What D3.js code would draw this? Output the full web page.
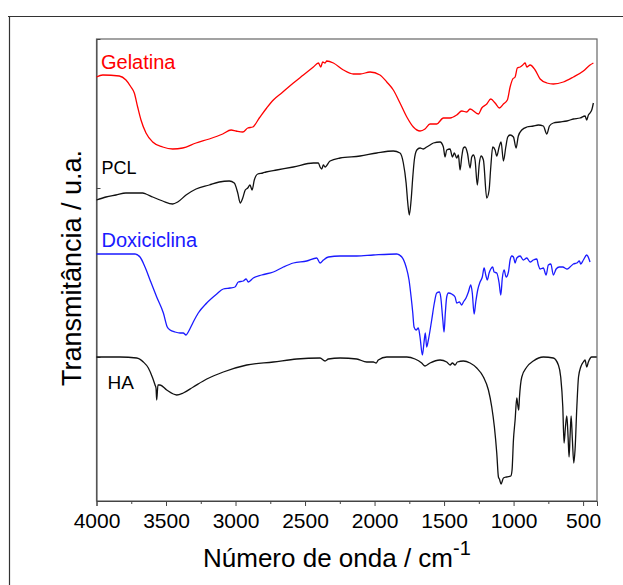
<!DOCTYPE html>
<html><head><meta charset="utf-8">
<script src="https://cdn.jsdelivr.net/npm/d3@7"></script>
<style>html,body{margin:0;padding:0;background:#fff;}svg{display:block;}</style>
</head><body>
<svg id="chart" width="623" height="585"></svg>
<script>
// ---- data (wavenumber cm-1, transmittance in arbitrary units) ----
const xMajorTicks = [4000, 3500, 3000, 2500, 2000, 1500, 1000, 500];
const xMinorTicks = [3750, 3250, 2750, 2250, 1750, 1250, 750];
const yTicks = [144, 313];
const seriesNames = ["Gelatina", "PCL", "Doxiciclina", "HA"];

const gelatina = [[4000,424],[3955,426],[3836,425],[3788,421],[3752,414],[3728,408],[3704,394],[3680,381],[3644,368],[3596,359],[3524,354],[3452,352],[3380,353],[3284,358],[3189,362],[3092,367],[3032,371],[2996,370],[2948,369],[2912,373],[2876,374],[2829,383],[2776,393],[2728,401],[2668,408],[2584,418],[2512,426],[2440,434],[2404,438],[2387,434],[2373,439],[2356,438],[2344,440],[2296,438],[2224,431],[2153,427],[2104,427],[2032,429],[1961,426],[1912,419],[1865,411],[1817,398],[1768,384],[1721,374],[1673,370],[1637,372],[1601,377],[1553,377],[1505,383],[1457,383],[1409,386],[1373,390],[1337,389],[1313,392],[1253,387],[1229,393],[1193,397],[1164,402],[1133,398],[1102,393],[1073,397],[1045,401],[1025,414],[1006,422],[989,424],[973,433],[953,434],[934,436],[917,438],[905,434],[881,436],[845,431],[809,422],[761,418],[714,417],[642,419],[570,424],[498,430],[450,436],[426,438]];

const pcl = [[4000,301],[3932,304],[3860,306],[3788,308],[3716,308],[3668,308],[3644,307],[3596,304],[3524,300],[3452,297],[3416,299],[3356,306],[3284,312],[3189,316],[3117,319],[3045,320],[3009,318],[2984,308],[2966,298],[2948,303],[2930,311],[2912,313],[2896,316],[2881,311],[2865,321],[2840,327],[2804,328],[2781,329],[2704,331],[2584,334],[2440,338],[2404,338],[2392,334],[2380,332],[2368,336],[2356,334],[2320,340],[2248,343],[2104,345],[1984,348],[1865,350],[1817,348],[1793,338],[1773,318],[1761,298],[1750,286],[1737,301],[1725,324],[1714,341],[1696,351],[1673,353],[1649,352],[1625,354],[1601,356],[1577,358],[1529,359],[1505,354],[1493,344],[1481,351],[1457,352],[1440,344],[1426,348],[1409,343],[1397,346],[1385,331],[1373,344],[1361,353],[1349,354],[1332,348],[1313,333],[1301,344],[1289,346],[1277,341],[1261,316],[1246,338],[1234,345],[1217,341],[1193,303],[1176,311],[1164,334],[1150,354],[1133,351],[1121,345],[1104,354],[1090,359],[1073,340],[1056,354],[1042,364],[1025,366],[1001,364],[982,353],[966,365],[941,371],[905,374],[858,375],[822,376],[786,375],[761,367],[742,375],[714,378],[666,379],[617,380],[570,382],[522,383],[486,385],[474,381],[462,386],[450,388],[438,391],[426,398]];

const doxiciclina = [[4000,247],[3879,247],[3723,247],[3687,244],[3651,234],[3615,221],[3567,204],[3519,188],[3491,174],[3471,171],[3435,169],[3399,168],[3376,168],[3356,166],[3340,169],[3304,179],[3268,188],[3207,198],[3135,207],[3088,212],[3040,213],[3004,214],[2980,219],[2944,220],[2924,222],[2908,219],[2872,223],[2812,226],[2728,229],[2656,234],[2584,238],[2488,240],[2416,243],[2392,238],[2368,241],[2332,244],[2248,245],[2128,245],[2009,246],[1840,247],[1804,244],[1773,234],[1752,221],[1737,204],[1725,188],[1716,174],[1701,171],[1685,173],[1673,164],[1656,146],[1644,159],[1635,168],[1625,154],[1613,161],[1589,181],[1570,198],[1553,208],[1534,209],[1524,204],[1509,181],[1500,169],[1491,188],[1481,204],[1469,208],[1445,207],[1421,204],[1409,198],[1390,199],[1373,196],[1361,199],[1342,203],[1325,209],[1308,216],[1297,208],[1284,187],[1272,199],[1258,211],[1241,219],[1225,224],[1212,233],[1200,226],[1189,221],[1176,228],[1164,232],[1150,234],[1140,229],[1121,228],[1104,218],[1092,206],[1081,223],[1068,231],[1054,224],[1037,229],[1025,241],[1013,245],[1001,244],[989,238],[977,243],[953,245],[930,241],[905,243],[881,239],[858,241],[833,242],[822,236],[810,232],[786,233],[766,226],[750,236],[732,237],[714,226],[694,232],[671,234],[646,234],[617,232],[594,234],[570,237],[545,238],[527,240],[517,237],[498,241],[474,246],[450,239]];

const ha = [[4000,144],[3831,144],[3711,143],[3663,139],[3627,133],[3596,123],[3579,116],[3572,113],[3567,101],[3558,116],[3543,116],[3495,111],[3423,106],[3376,108],[3304,114],[3207,122],[3088,129],[2919,136],[2728,139],[2560,142],[2392,143],[2356,140],[2332,142],[2248,143],[2128,142],[2056,139],[2009,139],[1989,138],[1973,141],[1912,144],[1768,144],[1709,142],[1661,138],[1637,135],[1601,138],[1529,141],[1481,139],[1457,136],[1440,138],[1421,136],[1404,139],[1361,140],[1313,138],[1265,133],[1217,124],[1181,111],[1157,94],[1138,74],[1121,48],[1109,24],[1102,22],[1090,17],[1073,23],[1049,24],[1020,25],[1011,31],[1001,61],[989,81],[977,103],[970,96],[963,91],[958,103],[941,124],[905,134],[858,140],[786,144],[714,143],[678,136],[661,124],[646,94],[637,58],[627,74],[617,85],[608,64],[601,44],[594,64],[586,85],[577,61],[567,38],[558,51],[545,94],[533,124],[517,134],[498,139],[486,141],[474,134],[462,139],[438,144],[402,144]];

// ---- drawing ----
const svg = d3.select("#chart");
const font = "'Liberation Sans', Arial, sans-serif";
const pLeft = 96.5, pRight = 597, pTop = 39, pBottom = 501;

const x = d3.scaleLinear().domain([4000, 400]).range([pLeft, pRight]);
const y = d3.scaleLinear().domain([0, 462]).range([pBottom, pTop]);

// outer frame
svg.append("line").attr("x1", 8).attr("x2", 623).attr("y1", 16.5).attr("y2", 16.5)
  .attr("stroke", "#333").attr("stroke-width", 1.2);
svg.append("line").attr("x1", 9.5).attr("x2", 9.5).attr("y1", 16).attr("y2", 585)
  .attr("stroke", "#333").attr("stroke-width", 1.2);

// plot frame
svg.append("rect").attr("x", pLeft).attr("y", pTop).attr("width", pRight - pLeft).attr("height", pBottom - pTop)
  .attr("fill", "none").attr("stroke", "#666").attr("stroke-width", 1.2);

// x axis
const xAxis = svg.append("g").attr("transform", `translate(0,${pBottom})`)
  .call(d3.axisBottom(x).tickValues(xMajorTicks).tickSize(5).tickPadding(7).tickFormat(d3.format("d")));
xAxis.select(".domain").attr("stroke", "#444");
xAxis.selectAll(".tick line").attr("stroke", "#444");
xAxis.selectAll("text").attr("font-family", font).attr("font-size", 21).attr("fill", "#000");
const xMinor = svg.append("g").attr("transform", `translate(0,${pBottom})`)
  .call(d3.axisBottom(x).tickValues(xMinorTicks).tickSize(3).tickFormat(""));
xMinor.select(".domain").remove();
xMinor.selectAll(".tick line").attr("stroke", "#444");

// y axis (inward ticks, no labels)
const yAxis = svg.append("g").attr("transform", `translate(${pLeft},0)`)
  .call(d3.axisRight(y).tickValues(yTicks).tickSize(4).tickFormat(""));
yAxis.select(".domain").attr("stroke", "#444");
yAxis.selectAll(".tick line").attr("stroke", "#444");

// curves
const line = d3.line().x(d => x(d[0])).y(d => y(d[1])).curve(d3.curveMonotoneX);
const series = [
  {data: gelatina, color: "#ff0000"},
  {data: pcl, color: "#111111"},
  {data: doxiciclina, color: "#1a1aff"},
  {data: ha, color: "#111111"}
];
svg.append("g").selectAll("path").data(series).join("path")
  .attr("d", d => line(d.data)).attr("fill", "none")
  .attr("stroke", d => d.color).attr("stroke-width", 1.3).attr("stroke-linejoin", "round");

// series labels
const labels = [
  {text: seriesNames[0], x: 101, y: 69, size: 20, color: "#ff0000"},
  {text: seriesNames[1], x: 101.5, y: 174, size: 18, color: "#000"},
  {text: seriesNames[2], x: 101.5, y: 247, size: 20, color: "#1a1aff"},
  {text: seriesNames[3], x: 107.5, y: 389, size: 19, color: "#000"}
];
svg.append("g").selectAll("text").data(labels).join("text")
  .attr("x", d => d.x).attr("y", d => d.y).attr("font-family", font)
  .attr("font-size", d => d.size).attr("fill", d => d.color).text(d => d.text);

// axis titles
const xt = svg.append("text").attr("x", 203).attr("y", 567).attr("font-family", font)
  .attr("font-size", 26).attr("fill", "#000");
xt.append("tspan").text("Número de onda / cm");
xt.append("tspan").attr("dy", -12).attr("font-size", 20).text("-1");

svg.append("text").attr("transform", "translate(81,268) rotate(-90)").attr("text-anchor", "middle")
  .attr("font-family", font).attr("font-size", 27).attr("fill", "#000").text("Transmitância / u.a.");
</script>
</body></html>
